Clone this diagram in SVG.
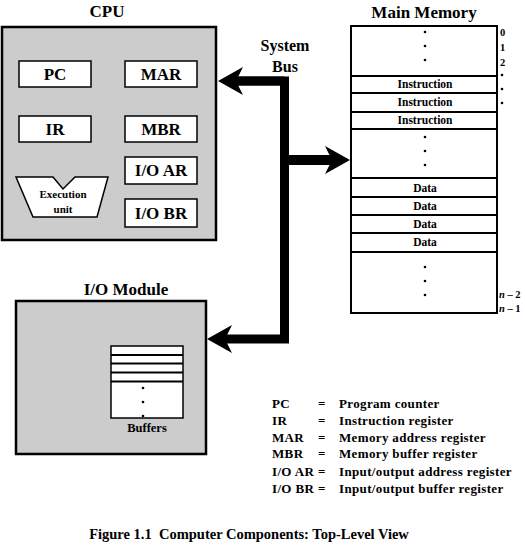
<svg xmlns="http://www.w3.org/2000/svg" width="525" height="552" viewBox="0 0 525 552">
<style>
text{font-family:"Liberation Serif","Times New Roman",serif;font-weight:bold;fill:#000}
.c{text-anchor:middle}
.title{font-size:17px}
.reg{font-size:17px}
.small{font-size:11px}
.memt{font-size:11.5px}
.leg{font-size:13px;letter-spacing:0.35px}
.num{font-size:10.5px}
.panel{fill:#cccccc;stroke:#000;stroke-width:2.5}
.box{fill:#fff;stroke:#000;stroke-width:1.5}
.mem{fill:#fff;stroke:#000;stroke-width:2}
.row{stroke:#000;stroke-width:2}
.bus{fill:none;stroke:#000;stroke-width:9;stroke-linejoin:miter;stroke-linecap:butt}
</style>
<defs>
<marker id="ah" markerUnits="userSpaceOnUse" markerWidth="26" markerHeight="30" refX="7" refY="0" orient="auto" overflow="visible">
<path d="M25,0 L0,-14 L7,0 L0,14 Z" fill="#000"/>
</marker>
<g id="dots3">
<circle cx="0" cy="0" r="1.3"/><circle cx="0" cy="14" r="1.3"/><circle cx="0" cy="28" r="1.3"/>
</g>
</defs>
<rect width="525" height="552" fill="#fff"/>

<g id="cpu">
<text class="title c" x="107" y="17">CPU</text>
<rect class="panel" x="2" y="27" width="214" height="213"/>
<g id="pc"><rect class="box" x="19" y="61" width="72" height="26"/><text class="reg c" x="55" y="80">PC</text></g>
<g id="mar"><rect class="box" x="125" y="61" width="72" height="26"/><text class="reg c" x="161" y="80">MAR</text></g>
<g id="ir"><rect class="box" x="19" y="116" width="72" height="26"/><text class="reg c" x="55" y="135">IR</text></g>
<g id="mbr"><rect class="box" x="125" y="116" width="72" height="26"/><text class="reg c" x="161" y="135">MBR</text></g>
<g id="ioar"><rect class="box" x="125" y="157" width="72" height="27"/><text class="reg c" x="161" y="176">I/O AR</text></g>
<g id="iobr"><rect class="box" x="125" y="199" width="72" height="28"/><text class="reg c" x="161" y="219">I/O BR</text></g>
<g id="exec">
<path class="box" d="M16,177 L53,177 L63,189 L75,177 L108,177 L97,217 L33,217 Z"/>
<text class="small c" x="63" y="198">Execution</text>
<text class="small c" x="63" y="213">unit</text>
</g>
</g>

<g id="memory">
<text class="title c" x="424" y="18">Main Memory</text>
<rect class="mem" x="351" y="26" width="146" height="287"/>
<g>
<line class="row" x1="351" y1="76" x2="497" y2="76"/>
<line class="row" x1="351" y1="93" x2="497" y2="93"/>
<line class="row" x1="351" y1="112" x2="497" y2="112"/>
<line class="row" x1="351" y1="129" x2="497" y2="129"/>
<line class="row" x1="351" y1="178" x2="497" y2="178"/>
<line class="row" x1="351" y1="197" x2="497" y2="197"/>
<line class="row" x1="351" y1="215" x2="497" y2="215"/>
<line class="row" x1="351" y1="233" x2="497" y2="233"/>
<line class="row" x1="351" y1="252" x2="497" y2="252"/>
</g>
<use href="#dots3" x="425" y="32"/>
<use href="#dots3" x="425" y="137"/>
<use href="#dots3" x="425" y="267"/>
<text class="memt c" x="425" y="88">Instruction</text>
<text class="memt c" x="425" y="106">Instruction</text>
<text class="memt c" x="425" y="124">Instruction</text>
<text class="memt c" x="425" y="192">Data</text>
<text class="memt c" x="425" y="210">Data</text>
<text class="memt c" x="425" y="228">Data</text>
<text class="memt c" x="425" y="246">Data</text>
<text class="num" x="500" y="36">0</text>
<text class="num" x="500" y="51">1</text>
<text class="num" x="500" y="66">2</text>
<circle cx="502" cy="75" r="1.3"/><circle cx="502" cy="89" r="1.3"/><circle cx="502" cy="103" r="1.3"/>
<text class="num" x="499" y="298"><tspan font-style="italic">n</tspan> – 2</text>
<text class="num" x="499" y="312"><tspan font-style="italic">n</tspan> – 1</text>
</g>

<g id="io">
<text class="title c" x="126" y="295">I/O Module</text>
<rect class="panel" x="16" y="301" width="190" height="153"/>
<g id="buffers">
<rect class="mem" x="111" y="346" width="72" height="72" style="stroke-width:1.5"/>
<line class="row" x1="111" y1="355" x2="183" y2="355"/>
<line class="row" x1="111" y1="363.5" x2="183" y2="363.5"/>
<line class="row" x1="111" y1="372.5" x2="183" y2="372.5"/>
<line class="row" x1="111" y1="381.5" x2="183" y2="381.5"/>
<use href="#dots3" x="143" y="388"/>
<text class="c" x="147" y="432" style="font-size:12.5px">Buffers</text>
</g>
</g>

<g id="connectors">
<text class="title c" x="285" y="51" style="font-size:16px">System</text>
<text class="title c" x="285" y="72" style="font-size:16px">Bus</text>
<path class="bus" d="M236,81 H284.5 V339 H225" marker-end="url(#ah)"/>
<path class="bus" d="M289,160 H332" style="stroke-width:10" marker-end="url(#ah)"/>
<path class="bus" d="M284.5,81 H236" marker-end="url(#ah)"/>
</g>

<g id="legend">
<text class="leg" x="272" y="408">PC</text><text class="leg" x="318" y="408">=</text><text class="leg" x="339" y="408">Program counter</text>
<text class="leg" x="272" y="425">IR</text><text class="leg" x="318" y="425">=</text><text class="leg" x="339" y="425">Instruction register</text>
<text class="leg" x="272" y="442">MAR</text><text class="leg" x="318" y="442">=</text><text class="leg" x="339" y="442">Memory address register</text>
<text class="leg" x="272" y="458">MBR</text><text class="leg" x="318" y="458">=</text><text class="leg" x="339" y="458">Memory buffer register</text>
<text class="leg" x="272" y="476">I/O AR</text><text class="leg" x="318" y="476">=</text><text class="leg" x="339" y="476">Input/output address register</text>
<text class="leg" x="272" y="493">I/O BR</text><text class="leg" x="318" y="493">=</text><text class="leg" x="339" y="493">Input/output buffer register</text>
</g>

<text class="c" x="249" y="539" style="font-size:14.5px">Figure 1.1&#160; Computer Components: Top-Level View</text>
</svg>
